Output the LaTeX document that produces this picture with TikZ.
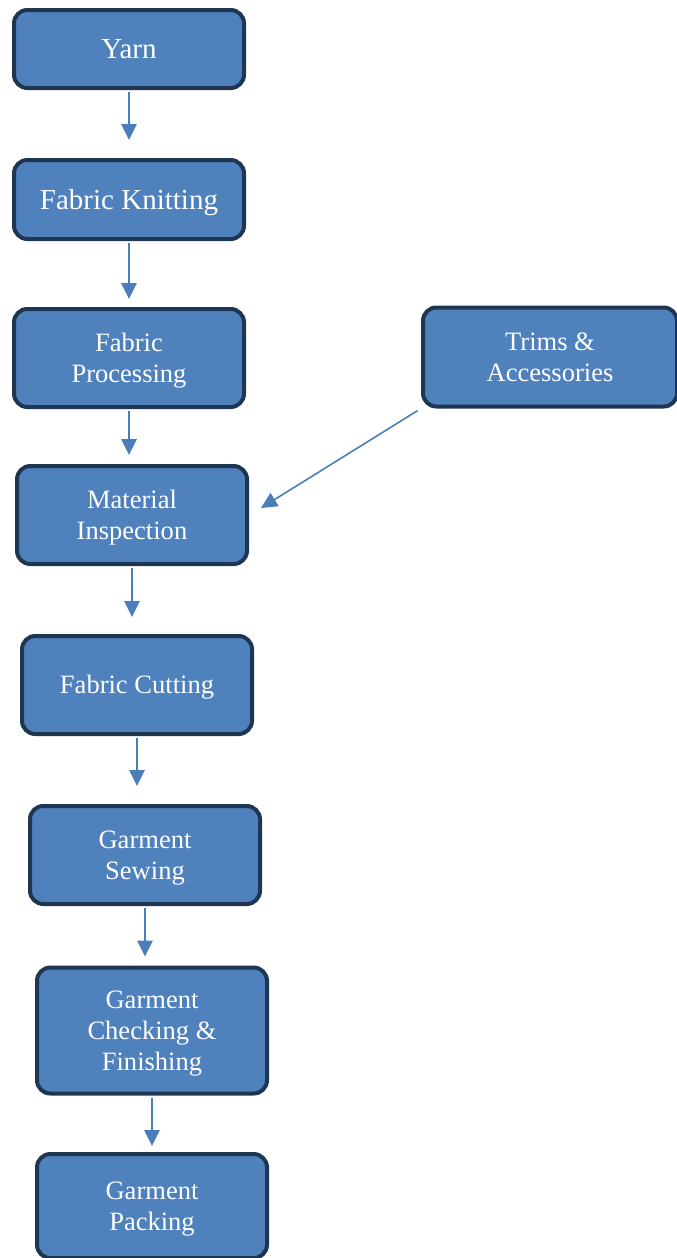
\documentclass[tikz,border=0pt]{standalone}
\usepackage{fontspec}
\setmainfont{Liberation Serif}
\usetikzlibrary{arrows.meta, calc}

\definecolor{boxfill}{HTML}{4F81BD}
\definecolor{boxline}{HTML}{1F3652}
\definecolor{flowcol}{HTML}{4A7EBB}

% line strut, so the text sits in the box as the word processor set it
\newcommand{\lstrut}{\rule[-0.216em]{0pt}{1.107em}}

\tikzset{
    stage/.style={draw=boxline, fill=boxfill, line width=3pt, rounded corners=10pt,
        text=white, align=center, inner sep=2pt,
        minimum width=172.5pt, minimum height=73.5pt,
        font=\fontsize{19.9}{23}\selectfont},
    bigstage/.style={stage, minimum height=58.5pt, font=\fontsize{21.75}{25}\selectfont},
    flow/.style={draw=flowcol, line width=1.2pt, shorten <=1.5pt,
        -{Triangle[width=11.5pt, length=12pt]}},
}

\begin{document}
\begin{tikzpicture}[x=0.75pt, y=-0.75pt]
    \useasboundingbox (0,0) rectangle (676,1258);

    \node[bigstage] (yarn) at (129,49) {\lstrut Yarn};
    \node[bigstage, minimum height=59.25pt] (knit) at (129,199.5) {\lstrut Fabric Knitting};
    \node[stage] (proc) at (129,358) {\lstrut Fabric\\\lstrut Processing};
    \node[stage, minimum width=190.5pt, minimum height=74.25pt] (trims) at (550,357) {\lstrut Trims \&\\\lstrut Accessories};
    \node[stage] (insp) at (132,515) {\lstrut Material\\\lstrut Inspection};
    \node[stage] (cut) at (137,685) {\lstrut Fabric Cutting};
    \node[stage] (sew) at (145,855) {\lstrut Garment\\\lstrut Sewing};
    \node[stage, minimum height=94.5pt] (check) at (152,1030.5) {\lstrut Garment\\\lstrut Checking \&\\\lstrut Finishing};
    \node[stage, minimum height=78pt] (pack) at (152,1206) {\lstrut Garment\\\lstrut Packing};

    \coordinate (insp in) at ($(insp.east)+(12,-7)$);

    \draw[flow, shorten >=13.5pt] (yarn) -- (yarn |- knit.north);
    \draw[flow, shorten >=6pt] (knit) -- (knit |- proc.north);
    \draw[flow, shorten >=6.75pt] (proc) -- (proc |- insp.north);
    \draw[flow, shorten >=12.75pt] (insp) -- (insp |- cut.north);
    \draw[flow, shorten >=13.5pt] (cut) -- (cut |- sew.north);
    \draw[flow, shorten >=6.75pt] (sew) -- (sew |- check.north);
    \draw[flow, shorten >=4.5pt] (check) -- (check |- pack.north);
    \draw[flow, shorten <=3pt] (trims.south west) -- (insp in);
\end{tikzpicture}
\end{document}
